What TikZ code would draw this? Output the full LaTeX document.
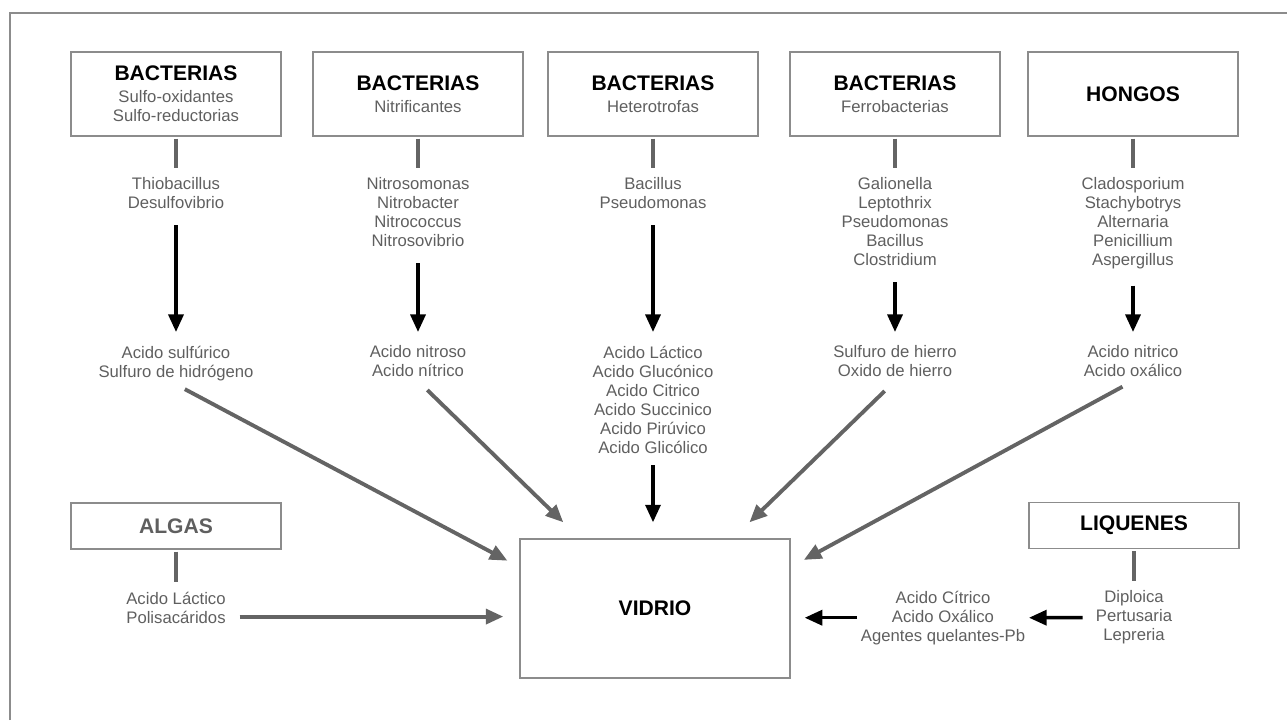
\documentclass[tikz,border=0pt]{standalone}
\usepackage{fontspec}
\setmainfont{Liberation Sans}
\usetikzlibrary{arrows.meta,calc}
\definecolor{txtgray}{RGB}{95,95,95}
\definecolor{linegray}{RGB}{140,140,140}
\definecolor{argray}{RGB}{100,100,100}
\newcommand{\hdr}[1]{{\color{black}\bfseries\fontsize{12}{14}\selectfont #1}}
\begin{document}
\begin{tikzpicture}[x=0.02cm,y=-0.02cm,
  box/.style={draw=linegray,line width=0.8pt,minimum width=4.2cm,minimum height=1.68cm,align=center,inner sep=0pt,text=txtgray,font=\fontsize{9.5}{10.8}\selectfont},
  lowbox/.style={box,minimum height=0.92cm},
  list/.style={align=center,anchor=north,inner sep=2pt,text=txtgray,font=\fontsize{9.5}{10.8}\selectfont},
  bar/.style={draw=argray,line width=2pt,shorten <=0.04cm,shorten >=0.12cm},
  blkarrow/.style={-{Triangle[length=10pt,width=8.5pt]},line width=2pt,shorten <=0.25cm,shorten >=0.2cm},
  grayarrow/.style={-{Triangle[length=10pt,width=8.5pt]},draw=argray,line width=2.2pt}]
\useasboundingbox (0,0) rectangle (1287,720);
\draw[linegray,line width=0.6pt] (10,720) -- (10,13) -- (1287,13);
\node[box] (bsulf) at (176,94) {\hdr{BACTERIAS}\\[1.7pt]Sulfo-oxidantes\\Sulfo-reductorias};
\node[box] (bnitr) at (418,94) {\hdr{BACTERIAS}\\[1.7pt]Nitrificantes};
\node[box] (bhet) at (653,94) {\hdr{BACTERIAS}\\[1.7pt]Heterotrofas};
\node[box] (bferro) at (895,94) {\hdr{BACTERIAS}\\[1.7pt]Ferrobacterias};
\node[box] (bhong) at (1133,94) {\hdr{HONGOS}};
\node[list] (gsulf) at (176,174) {Thiobacillus\\Desulfovibrio};
\node[list] (gnitr) at (418,174) {Nitrosomonas\\Nitrobacter\\Nitrococcus\\Nitrosovibrio};
\node[list] (ghet) at (653,174) {Bacillus\\Pseudomonas};
\node[list] (gferro) at (895,174) {Galionella\\Leptothrix\\Pseudomonas\\Bacillus\\Clostridium};
\node[list] (ghong) at (1133,174) {Cladosporium\\Stachybotrys\\Alternaria\\Penicillium\\Aspergillus};
\node[list] (psulf) at (176,342) {Acido sulfúrico\\Sulfuro de hidrógeno};
\node[list] (pnitr) at (418,342) {Acido nitroso\\Acido nítrico};
\node[list] (phet) at (653,342) {Acido Láctico\\Acido Glucónico\\Acido Citrico\\Acido Succinico\\Acido Pirúvico\\Acido Glicólico};
\node[list] (pferro) at (895,342) {Sulfuro de hierro\\Oxido de hierro};
\node[list] (phong) at (1133,342) {Acido nitrico\\Acido oxálico};
\node[box,minimum width=5.4cm,minimum height=2.78cm] (vidrio) at (655,608.5) {\hdr{VIDRIO}};
\node[lowbox] (balg) at (176,526) {\hdr{\color{txtgray}ALGAS}};
\node[lowbox] (bliq) at (1134,525.5) {\hdr{LIQUENES}};
\node[list] (palg) at (176,588) {Acido Láctico\\Polisacáridos};
\node[list] (pliq) at (1134,587) {Diploica\\Pertusaria\\Lepreria};
\node[list] (pquel) at (943,587) {Acido Cítrico\\Acido Oxálico\\Agentes quelantes-Pb};
\foreach \n in {sulf,nitr,het,ferro,hong} {
  \draw[bar] (b\n.south) -- (g\n.north);
  \draw[blkarrow] (g\n.south) -- (p\n.north);
}
\draw[bar] (balg.south) -- (palg.north);
\draw[bar] (bliq.south) -- (pliq.north);
\draw[blkarrow,shorten <=0.16cm,shorten >=0.32cm] (phet.south) -- (phet.south |- vidrio.north);
\draw[grayarrow,shorten <=0.2cm,shorten >=0.27cm] (psulf.south) -- (vidrio.163);
\draw[grayarrow,shorten <=0.26cm,shorten >=0.46cm] (pnitr.south) -- (vidrio.137);
\draw[grayarrow,shorten <=0.29cm,shorten >=0.46cm] (pferro.south) -- (vidrio.42);
\draw[grayarrow,shorten <=0.24cm,shorten >=0.3cm] (phong.south) -- (vidrio.17);
\draw[grayarrow,shorten <=0.2cm,shorten >=0.32cm] ($(palg.east)+(0,9)$) -- ($(palg.east -| vidrio.west)+(0,9)$);
\draw[blkarrow,shorten <=0pt,shorten >=0.28cm] (pquel.west) -- (pquel.west -| vidrio.east);
\draw[blkarrow,shorten <=0.19cm,shorten >=0pt] (pliq.west) -- (pquel.east);
\end{tikzpicture}
\end{document}
